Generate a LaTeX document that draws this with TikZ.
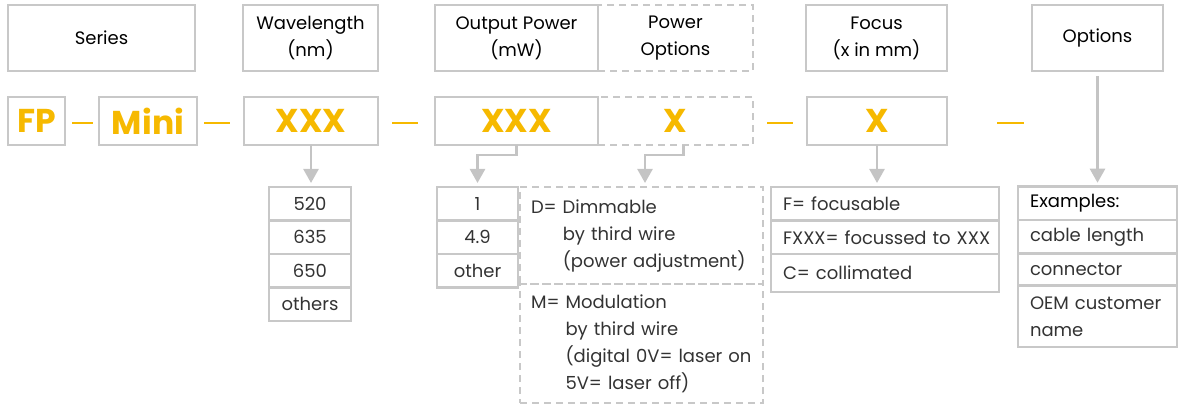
\documentclass[tikz,border=0pt]{standalone}
\usepackage{fontspec}
\setmainfont{Poppins}
\usepackage{tikz}
\usetikzlibrary{positioning,calc,arrows.meta}
\definecolor{linegray}{HTML}{C8C8C8}
\definecolor{arrowgray}{HTML}{C4C4C4}
\definecolor{codeyellow}{HTML}{F6B900}
\definecolor{itemgray}{HTML}{333333}
\newlength\pxu
\setlength\pxu{0.5pt}
\tikzset{
  frame/.style={draw=linegray, line width=1.25pt, outer sep=0pt, inner sep=0pt},
  head/.style={frame, minimum height=66\pxu, align=center, text=black},
  code/.style={frame, minimum height=48\pxu, text=codeyellow, font=\fontsize{16.5}{16.5}\selectfont\bfseries},
  cell/.style={frame, minimum height=33.5\pxu, text=itemgray},
  lcell/.style={cell, text width=#1, align=left, inner xsep=6pt},
  dashframe/.style={dash pattern=on 3.5pt off 2.5pt},
  feed/.style={draw=arrowgray, line width=1.25pt, shorten >=2pt, -{Triangle[width=7.5pt,length=7pt]}},
  sep/.style={draw=codeyellow, line width=1.25pt},
}
\begin{document}
\begin{tikzpicture}[x=0.5pt, y=-0.5pt, font=\fontsize{9}{13.5}\selectfont]
\useasboundingbox (0,0) rectangle (1181,405);
% headings
\node[head, minimum width=187\pxu] (series) at (101.5,38) {Series};
\node[head, minimum width=135\pxu] (wave) at (310.5,38) {Wavelength\\(nm)};
\node[head, dashframe, minimum width=155\pxu] (popt) at (675.5,38) {Power\\Options};
\node[head, minimum width=163\pxu] (outp) at (516.5,38) {Output Power\\(mW)};
\node[head, minimum width=141\pxu] (focus) at (876.5,38) {Focus\\(x in mm)};
\node[head, minimum width=131\pxu] (opts) at (1097.5,38) {Options};
% code line
\node[code, minimum width=57\pxu] (fp) at (36.5,121) {FP};
\node[code, minimum width=98\pxu] (mini) at (148,121) {Mini};
\node[code, minimum width=134\pxu] (cwave) at (311,121) {XXX};
\node[code, dashframe, minimum width=155\pxu] (cpopt) at (675.5,121) {X};
\node[code, minimum width=163\pxu] (cout) at (516.5,121) {XXX};
\node[code, minimum width=140\pxu] (cfocus) at (877,121) {X};
\draw[sep] ($(fp.east)+(7,2)$) -- +(21,0);
\draw[sep] ($(mini.east)+(7,2)$) -- +(26,0);
\draw[sep] ($(cwave.east)+(14,2)$) -- +(26,0);
\draw[sep] ($(cpopt.east)+(14,2)$) -- +(26,0);
\draw[sep] ($(cfocus.east)+(50,2)$) -- +(27,0);
% wavelength list
\node[cell, minimum width=82\pxu] (w1) at (310,203.75) {520};
\node[cell, minimum width=82\pxu, below=0pt of w1] (w2) {635};
\node[cell, minimum width=82\pxu, below=0pt of w2] (w3) {650};
\node[cell, minimum width=82\pxu, below=0pt of w3] (w4) {others};
% output power list
\node[cell, minimum width=81\pxu] (o1) at (477.5,203.75) {1};
\node[cell, minimum width=81\pxu, below=0pt of o1] (o2) {4.9};
\node[cell, minimum width=81\pxu, below=0pt of o2] (o3) {other};
% power options
\node[lcell=110.5pt, dashframe, inner xsep=5.5pt, minimum height=97\pxu] (dD) at (641.5,235.5)
  {\begin{tabular}{@{}l@{ }l@{}}D= & Dimmable\\ & by third wire\\ & (power adjustment)\end{tabular}};
\node[lcell=110.5pt, dashframe, inner xsep=5.5pt, minimum height=119\pxu, below=0pt of dD] (dM)
  {\begin{tabular}{@{}l@{ }l@{}}M= & Modulation\\ & by third wire\\ & (digital 0V= laser on\\ & 5V= laser off)\end{tabular}};
% focus list
\node[lcell=102pt] (f1) at (885,203.75) {F= focusable};
\node[lcell=102pt, below=0pt of f1] (f2) {\mbox{FXXX= focussed to XXX}};
\node[lcell=102pt, minimum height=38\pxu, below=0pt of f2] (f3) {C= collimated};
% options list
\node[lcell=67.5pt, text=black] (x1) at (1097.5,203.5) {Examples:};
\node[lcell=67.5pt, below=0pt of x1] (x2) {cable length};
\node[lcell=67.5pt, minimum height=32\pxu, below=0pt of x2] (x3) {connector};
\node[lcell=67.5pt, minimum height=61\pxu, below=0pt of x3] (x4) {\mbox{OEM customer}\\name};
% arrows
\draw[feed] (cwave.south) -- (cwave.south |- w1.north);
\draw[feed] (cout.south) -- ++(0,10) -| (o1.north);
\draw[feed] ($(cpopt.south)+(8,0)$) -- ++(0,10) -| ($(dD.north)+(3.5,0)$);
\draw[feed] (cfocus.south) -- (cfocus.south |- f1.north);
\draw[feed] ([yshift=-2.5pt]opts.south) -- (x1.north);
\end{tikzpicture}
\end{document}
